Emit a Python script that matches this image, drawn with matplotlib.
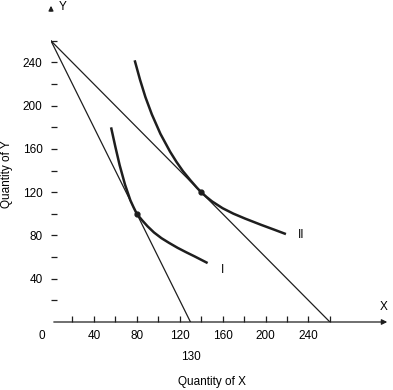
import matplotlib
matplotlib.use("Agg")
import matplotlib.pyplot as plt

plt.rcParams['font.family'] = ['Liberation Sans', 'DejaVu Sans']

# budget lines (x, y end points)
budget1_x = [0, 130]
budget1_y = [260, 0]
budget2_x = [0, 260]
budget2_y = [260, 0]

# indifference curve I
curve1_x = [56, 60, 64, 69, 74, 77, 80, 85, 90, 96, 103, 110, 118, 126, 134, 146]
curve1_y = [180, 162, 145, 127, 112.5, 106, 100, 94, 88.5, 82.8, 77.5, 73.2, 68.6, 64.5, 60.6, 54.5]

# indifference curve II
curve2_x = [78, 83, 88, 94, 102, 111, 117, 123, 130, 136, 140, 145, 150, 160, 170, 181, 196, 208, 219]
curve2_y = [242, 224, 208, 192, 174, 157.5, 148, 139.5, 131, 124.2, 120, 115.6, 111.6, 105.2, 100.2, 95.6, 89.8, 85.4, 81.3]

# tangency points
tangent_x = [80, 140]
tangent_y = [100, 120]

xticks_major = [40, 80, 120, 160, 200, 240]
xticks_minor = [20, 60, 100, 140, 180, 220, 260]
yticks_major = [40, 80, 120, 160, 200, 240]
yticks_minor = [20, 60, 100, 140, 180, 220, 260]

W, H = 393, 390
fig = plt.figure(figsize=(W / 100, H / 100), dpi=100)
ax = fig.add_axes([51 / W, (H - 322) / H, 339 / W, 319 / H])
ax.set_xlim(0, 316)
ax.set_ylim(0, 295)

col = '#1e1e1e'
ax.plot(budget1_x, budget1_y, color=col, lw=0.9)
ax.plot(budget2_x, budget2_y, color=col, lw=0.9)
ax.plot(curve1_x, curve1_y, color=col, lw=1.8, solid_capstyle='butt', solid_joinstyle='round')
ax.plot(curve2_x, curve2_y, color=col, lw=1.8, solid_capstyle='butt', solid_joinstyle='round')
ax.plot(tangent_x, tangent_y, 'o', color=col, ms=3.5)

for s in ax.spines.values():
    s.set_visible(False)

ax.set_xticks(xticks_major)
ax.set_xticks(xticks_minor, minor=True)
ax.set_yticks(yticks_major)
ax.set_yticks(yticks_minor, minor=True)
ax.tick_params(which='both', direction='in', length=4.2, width=0.9, color=col,
               labelsize=8.5, pad=6)

# x axis with arrow
ax.annotate('', xy=(316, 0), xytext=(0, 0),
            arrowprops=dict(arrowstyle='-|>', color=col, lw=0.9,
                            mutation_scale=8), annotation_clip=False)
# y arrow at top
ax.annotate('', xy=(0, 295), xytext=(0, 285),
            arrowprops=dict(arrowstyle='-|>', color=col, lw=0.9,
                            mutation_scale=7), annotation_clip=False)

ax.text(310, 8, 'X', fontsize=8.5, ha='center', va='bottom')
ax.text(11, 291, 'Y', fontsize=8.5, ha='center', va='center')
ax.text(-8.5, -12.5, '0', fontsize=8.5, ha='center', va='center')
ax.text(130, -32, '130', fontsize=8.5, ha='center', va='center')
ax.text(160, 48, 'I', fontsize=8.5, ha='center', va='center')
ax.text(233, 80, 'II', fontsize=8.5, ha='center', va='center')

fig.text(212 / W, 1 - 382 / H, 'Quantity of X', fontsize=8.5,
         ha='center', va='center')
fig.text(7 / W, 1 - 174 / H, 'Quantity of Y', fontsize=8.5,
         ha='center', va='center', rotation=90)

fig.savefig('out.png', dpi=100)
